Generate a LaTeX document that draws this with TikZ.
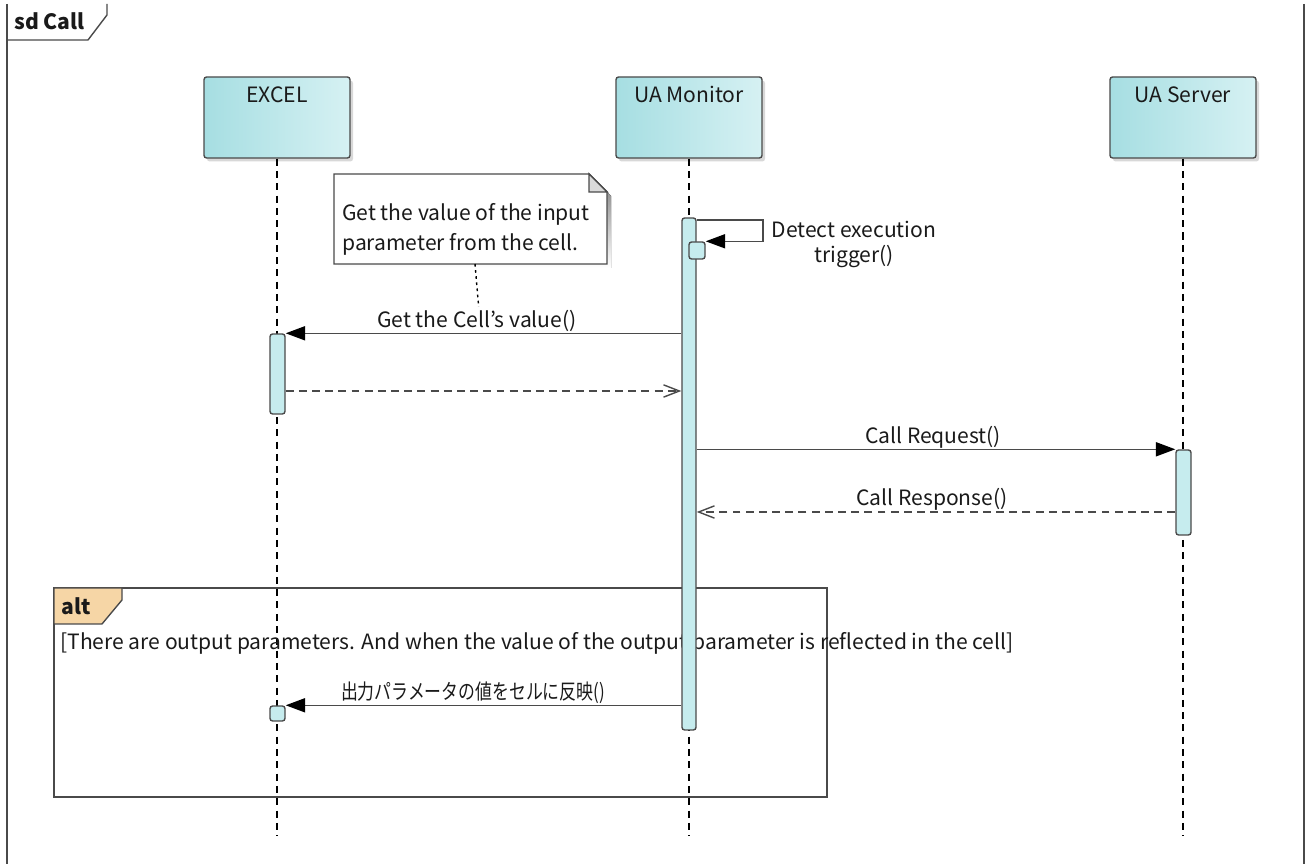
\documentclass[tikz,border=0pt]{standalone}
\usepackage{fontspec}
\setmainfont{Noto Sans CJK JP}
\usetikzlibrary{arrows.meta}
\definecolor{headL}{HTML}{A6DEE2}
\definecolor{headR}{HTML}{D6F1F3}
\definecolor{actfill}{HTML}{C6ECEE}
\definecolor{edge}{HTML}{4A4A4A}
\definecolor{altfill}{HTML}{F6D6A6}
\definecolor{foldfill}{HTML}{DADADA}
\definecolor{shade}{HTML}{D8D8D8}
\definecolor{txt}{HTML}{1A1A1A}
\begin{document}
\begin{tikzpicture}[x=0.02cm,y=-0.02cm,
  every node/.style={font=\fontsize{12}{14}\selectfont, text=txt, inner sep=0pt},
  head/.style={draw=edge, line width=0.8pt, rounded corners=1.5pt, left color=headL, right color=headR,
    minimum width=146*0.02cm, minimum height=81*0.02cm},
  headshadow/.style={fill=shade, rounded corners=1.5pt, minimum width=146*0.02cm, minimum height=81*0.02cm},
  act/.style={draw=edge, line width=0.8pt, fill=actfill, rounded corners=1.5pt, minimum width=15*0.02cm},
  lifeline/.style={line width=0.8pt, dash pattern=on 4pt off 3pt},
  sync/.style={line width=0.8pt, draw=edge, -{Triangle[length=11pt,width=8pt,fill=black,color=black]}},
  reply/.style={line width=0.8pt, draw=edge, dash pattern=on 4.5pt off 3pt, -{Straight Barb[length=9pt,width=7pt,line width=0.8pt]}},
  frame/.style={line width=0.8pt, draw=edge},
  lbl/.style={font=\fontsize{12}{14}\selectfont}
]
\useasboundingbox (0,0) rectangle (1306,864);
% outer frame
\draw[frame] (7,4) -- (7,870);
\draw[frame] (1304,4) -- (1304,870);
\draw[frame] (7,40) -- (88,40) -- (107,15) -- (107,4);
\node[anchor=west, font=\bfseries\fontsize{12}{14}\selectfont] (sdlabel) at (14,21) {sd Call};

% lifeline heads (shadows)
\node[headshadow] at (280,121) {};
\node[headshadow] at (692,121) {};
\node[headshadow] at (1186,121) {};
\node[head] (excel) at (277,117.5) {};
\node[head] (mon) at (689,117.5) {};
\node[head] (srv) at (1183,117.5) {};
\node[anchor=north, lbl] (excelL) at (277,86) {EXCEL};
\node[anchor=north, lbl] (monL) at (689,86) {UA Monitor};
\node[anchor=north, lbl] (srvL) at (1183,86) {UA Server};

% lifeline ends
\coordinate (excelEnd) at (277,836);
\coordinate (monEnd) at (689,836);
\coordinate (srvEnd) at (1183,836);
\draw[lifeline] (excel.south) -- (excelEnd);
\draw[lifeline] (mon.south) -- (monEnd);
\draw[lifeline] (srv.south) -- (srvEnd);

% alt frame
\draw[frame] (54,588) rectangle (827,797);
\draw[frame, fill=altfill] (54,588) -- (122,588) -- (122,600) -- (102,624) -- (54,624) -- cycle;
\node[anchor=west, font=\bfseries\fontsize{12}{14}\selectfont] (altL) at (61,606) {alt};
\node[anchor=west, lbl] (guard) at (60,643) {[There are output parameters. And when the value of the output parameter is reflected in the cell]};

% activations
\node[act, minimum height=512*0.02cm, minimum width=14*0.02cm] (monAct) at (689,474) {};
\node[act, minimum height=17*0.02cm, minimum width=16*0.02cm] (selfAct) at (697,250.5) {};
\node[act, minimum height=80*0.02cm] (excAct1) at (277.5,374) {};
\node[act, minimum height=85*0.02cm] (srvAct) at (1183.5,492.5) {};
\node[act, minimum height=15*0.02cm] (excAct2) at (277.5,713.5) {};

% note
\fill[shade] (338,178) -- (593,178) -- (611,196) -- (611,268) -- (338,268) -- cycle;
\draw[frame, fill=white] (334,174) -- (589,174) -- (607,192) -- (607,264) -- (334,264) -- cycle;
\draw[frame, fill=foldfill] (589,174) -- (589,192) -- (607,192) -- cycle;
\node[anchor=west, align=left, font=\fontsize{12}{17.5}\selectfont] (note) at (342,229.5) {Get the value of the input\\parameter from the cell.};
\coordinate (noteB) at (475,264);
\coordinate (noteT) at (481,334);
\draw[line width=0.8pt, dash pattern=on 1.5pt off 2pt] (noteB) -- (noteT);

% self message
\coordinate (selfTop) at (696,220);
\coordinate (selfR) at (763,220);
\draw[sync] (monAct.east |- selfTop) -- (selfR) -- (selfR |- selfAct.north) -- (selfAct.north east);
\node[lbl, align=center, font=\fontsize{12}{14.2}\selectfont] (selfL) at (854,244) {Detect execution\\trigger()};

% get cell value
\node[lbl, fill=white, inner xsep=1pt, inner ysep=2pt] (m1L) at (477,321) {Get the Cell\symbol{"27}s value()};
\draw[sync] (monAct.west |- excAct1.north) -- (excAct1.north east);
\coordinate (r1) at (0,391);
\draw[reply] (excAct1.east |- r1) -- (monAct.west |- r1);

% call request / response
\draw[sync] (monAct.east |- srvAct.north) -- (srvAct.north west);
\node[lbl] (m2L) at (933,437) {Call Request()};
\coordinate (r2) at (0,512);
\draw[reply] (srvAct.west |- r2) -- (monAct.east |- r2);
\node[lbl] (m3L) at (932,499) {Call Response()};

% japanese message
\draw[sync] (monAct.west |- excAct2.north) -- (excAct2.north east);
\node[lbl] (m4L) at (473,693) {\scalebox{0.8}[1]{出力パラメータの値をセルに反映()}};
\end{tikzpicture}
\end{document}
